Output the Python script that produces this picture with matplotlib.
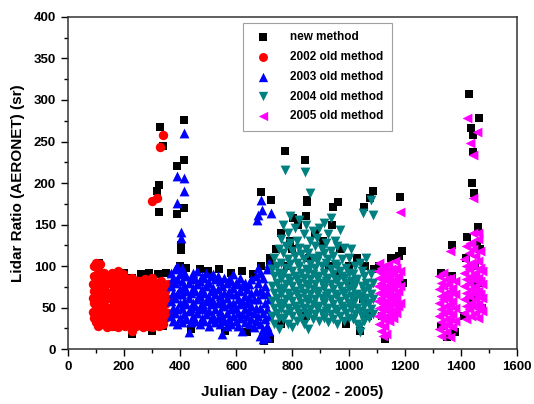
import numpy as np
import matplotlib
matplotlib.use("Agg")
import matplotlib.pyplot as plt
from matplotlib.ticker import MultipleLocator

plt.rcParams['font.family'] = ['Liberation Sans', 'DejaVu Sans']
plt.rcParams['font.weight'] = 'bold'

# (julian day, lidar ratio)
old_2002 = [
    (88, 45), (88, 62), (88, 78),
    (95, 38), (95, 55), (95, 70), (95, 88), (95, 100),
    (102, 32), (102, 50), (102, 66), (102, 84), (102, 104),
    (109, 28), (109, 44), (109, 60), (109, 76), (109, 96),
    (116, 35), (116, 52), (116, 72), (116, 90), (116, 102),
    (123, 30), (123, 48), (123, 64), (123, 82),
    (130, 40), (130, 58), (130, 74), (130, 92),
    (140, 26), (140, 44), (140, 62), (140, 80),
    (148, 34), (148, 50), (148, 68), (148, 86),
    (156, 28), (156, 46), (156, 60), (156, 78), (156, 92),
    (164, 38), (164, 54), (164, 72), (164, 88),
    (172, 30), (172, 48), (172, 66), (172, 84),
    (180, 26), (180, 42), (180, 58), (180, 76), (180, 94),
    (188, 36), (188, 52), (188, 70), (188, 86),
    (196, 30), (196, 46), (196, 62), (196, 80), (196, 90),
    (204, 28), (204, 44), (204, 58), (204, 74),
    (212, 34), (212, 50), (212, 66), (212, 84),
    (220, 30), (220, 44), (220, 60), (220, 78),
    (228, 22), (228, 40), (228, 56), (228, 72), (228, 86),
    (236, 32), (236, 48), (236, 64), (236, 80),
    (244, 28), (244, 42), (244, 58), (244, 74),
    (252, 36), (252, 52), (252, 68), (252, 82),
    (260, 30), (260, 46), (260, 62), (260, 78),
    (268, 26), (268, 40), (268, 56), (268, 72),
    (276, 34), (276, 50), (276, 66), (276, 84),
    (284, 28), (284, 44), (284, 58), (284, 76),
    (292, 32), (292, 48), (292, 62), (292, 80),
    (300, 26), (300, 40), (300, 56), (300, 70), (300, 86),
    (308, 30), (308, 46), (308, 60), (308, 76),
    (316, 34), (316, 50), (316, 64), (316, 80),
    (324, 28), (324, 42), (324, 58), (324, 74),
    (332, 36), (332, 52), (332, 66), (332, 82),
    (340, 30), (340, 46), (340, 60), (340, 76),
    (348, 38), (348, 54), (348, 70),
    (356, 44), (356, 60), (356, 78),
    (317, 182), (299, 178), (338, 258), (328, 243),
]

old_2003 = [
    (368, 40), (368, 58), (368, 76), (368, 92),
    (375, 34), (375, 50), (375, 68), (375, 86),
    (382, 44), (382, 62), (382, 80), (382, 96),
    (390, 30), (390, 48), (390, 66), (390, 84), (390, 100),
    (398, 38), (398, 56), (398, 72), (398, 90),
    (406, 32), (406, 50), (406, 66), (406, 82), (406, 98),
    (414, 42), (414, 58), (414, 76), (414, 92),
    (422, 36), (422, 54), (422, 70), (422, 88),
    (430, 20), (430, 46), (430, 62), (430, 80),
    (438, 32), (438, 50), (438, 68), (438, 86),
    (446, 40), (446, 56), (446, 74), (446, 92),
    (454, 34), (454, 52), (454, 70), (454, 84),
    (462, 44), (462, 60), (462, 78), (462, 94),
    (470, 30), (470, 48), (470, 64), (470, 82),
    (478, 38), (478, 56), (478, 72), (478, 88),
    (486, 34), (486, 50), (486, 68), (486, 86),
    (494, 42), (494, 58), (494, 76), (494, 92),
    (502, 28), (502, 46), (502, 62), (502, 80),
    (510, 36), (510, 54), (510, 70), (510, 88),
    (518, 40), (518, 58), (518, 74), (518, 90),
    (526, 32), (526, 48), (526, 66), (526, 84),
    (534, 38), (534, 56), (534, 72), (534, 88),
    (542, 30), (542, 46), (542, 64), (542, 82),
    (550, 18), (550, 40), (550, 58), (550, 76),
    (558, 34), (558, 52), (558, 68), (558, 86),
    (566, 28), (566, 44), (566, 62), (566, 80),
    (574, 36), (574, 54), (574, 70), (574, 84),
    (582, 30), (582, 48), (582, 66), (582, 82),
    (590, 40), (590, 56), (590, 74), (590, 90),
    (598, 34), (598, 50), (598, 66), (598, 80),
    (606, 28), (606, 44), (606, 60), (606, 78),
    (614, 38), (614, 54), (614, 70), (614, 86),
    (622, 22), (622, 42), (622, 58), (622, 76),
    (630, 32), (630, 48), (630, 64), (630, 80),
    (638, 40), (638, 56), (638, 72),
    (646, 30), (646, 46), (646, 62), (646, 78),
    (654, 36), (654, 52), (654, 68), (654, 84),
    (662, 26), (662, 44), (662, 60),
    (670, 34), (670, 50), (670, 70), (670, 88),
    (678, 40), (678, 60), (678, 80), (678, 98),
    (686, 16), (686, 30), (686, 50), (686, 70), (686, 92),
    (694, 12), (694, 24), (694, 44), (694, 66), (694, 86),
    (702, 20), (702, 36), (702, 56), (702, 76),
    (710, 14), (710, 28), (710, 48), (710, 68), (710, 96),
    (718, 22), (718, 40), (718, 60), (718, 104),
    (413, 260), (388, 208), (413, 206), (413, 190), (388, 176),
    (403, 141), (403, 134), (688, 180), (677, 161), (691, 167),
    (723, 164), (673, 155),
]

old_2004 = [
    (728, 40), (728, 58), (728, 76), (728, 96),
    (736, 30), (736, 50), (736, 68), (736, 88), (736, 110),
    (744, 44), (744, 62), (744, 80), (744, 100),
    (752, 24), (752, 38), (752, 56), (752, 74), (752, 92), (752, 120),
    (760, 48), (760, 66), (760, 84), (760, 104), (760, 132),
    (768, 36), (768, 54), (768, 72), (768, 90), (768, 116), (768, 150),
    (776, 42), (776, 60), (776, 78), (776, 98), (776, 124),
    (784, 30), (784, 50), (784, 68), (784, 86), (784, 108), (784, 140),
    (792, 46), (792, 64), (792, 82), (792, 102), (792, 128), (792, 160),
    (800, 26), (800, 40), (800, 58), (800, 76), (800, 94), (800, 118),
    (808, 52), (808, 70), (808, 88), (808, 112), (808, 146),
    (816, 34), (816, 48), (816, 66), (816, 84), (816, 104), (816, 130),
    (824, 44), (824, 62), (824, 80), (824, 100), (824, 122), (824, 156),
    (832, 38), (832, 56), (832, 74), (832, 92), (832, 114),
    (840, 30), (840, 50), (840, 68), (840, 86), (840, 108), (840, 138),
    (848, 44), (848, 60), (848, 78), (848, 96), (848, 120), (848, 150),
    (856, 24), (856, 40), (856, 58), (856, 76), (856, 94), (856, 116),
    (864, 48), (864, 66), (864, 84), (864, 102), (864, 130),
    (872, 36), (872, 54), (872, 72), (872, 90), (872, 110), (872, 142),
    (880, 42), (880, 60), (880, 78), (880, 98), (880, 124),
    (888, 50), (888, 68), (888, 86), (888, 106), (888, 134),
    (896, 34), (896, 52), (896, 70), (896, 88), (896, 112), (896, 146),
    (904, 44), (904, 62), (904, 80), (904, 100), (904, 120),
    (912, 38), (912, 56), (912, 74), (912, 92), (912, 116), (912, 152),
    (920, 46), (920, 64), (920, 82), (920, 104), (920, 128),
    (928, 32), (928, 50), (928, 68), (928, 86), (928, 108), (928, 138),
    (936, 42), (936, 60), (936, 78), (936, 96), (936, 118), (936, 158),
    (944, 36), (944, 54), (944, 72), (944, 90), (944, 112),
    (952, 48), (952, 66), (952, 84), (952, 102), (952, 130),
    (960, 30), (960, 46), (960, 64), (960, 82), (960, 100), (960, 124),
    (968, 40), (968, 58), (968, 76), (968, 94), (968, 144),
    (976, 52), (976, 70), (976, 88), (976, 108),
    (984, 34), (984, 50), (984, 68), (984, 86), (984, 122),
    (992, 44), (992, 62), (992, 80), (992, 98),
    (1000, 38), (1000, 56), (1000, 74), (1000, 92), (1000, 110),
    (1008, 48), (1008, 64), (1008, 82), (1008, 120),
    (1016, 36), (1016, 54), (1016, 72), (1016, 90),
    (1024, 42), (1024, 60), (1024, 78), (1024, 100),
    (1032, 30), (1032, 50), (1032, 66), (1032, 84),
    (1040, 20), (1040, 28), (1040, 46), (1040, 64), (1040, 104),
    (1048, 40), (1048, 58), (1048, 76), (1048, 94),
    (1056, 34), (1056, 52), (1056, 70), (1056, 88),
    (1064, 44), (1064, 62), (1064, 80), (1064, 110),
    (1072, 38), (1072, 56), (1072, 74),
    (1080, 48), (1080, 66), (1080, 90),
    (1088, 42), (1088, 60), (1088, 80),
    (773, 216), (845, 213), (862, 188), (1080, 179), (1052, 164), (1087, 161),
]

old_2005 = [
    (1104, 40), (1104, 58), (1104, 76), (1104, 94),
    (1110, 30), (1110, 50), (1110, 68), (1110, 86), (1110, 104),
    (1116, 22), (1116, 44), (1116, 62), (1116, 80), (1116, 98),
    (1122, 16), (1122, 36), (1122, 54), (1122, 72), (1122, 90),
    (1128, 28), (1128, 48), (1128, 66), (1128, 84), (1128, 100),
    (1134, 18), (1134, 40), (1134, 58), (1134, 76), (1134, 94),
    (1140, 46), (1140, 64), (1140, 82), (1140, 102),
    (1146, 34), (1146, 52), (1146, 70), (1146, 88),
    (1152, 42), (1152, 60), (1152, 78), (1152, 96),
    (1158, 38), (1158, 56), (1158, 74), (1158, 92),
    (1164, 48), (1164, 66), (1164, 84), (1164, 106),
    (1170, 44), (1170, 62), (1170, 80), (1170, 98),
    (1176, 52), (1176, 70), (1176, 88),
    (1182, 56), (1182, 76), (1182, 94), (1183, 165),
    (1322, 24), (1322, 40), (1322, 56), (1322, 72), (1322, 88),
    (1330, 16), (1330, 32), (1330, 48), (1330, 64), (1330, 80),
    (1338, 28), (1338, 44), (1338, 60), (1338, 76), (1338, 92),
    (1346, 20), (1346, 36), (1346, 52), (1346, 68), (1346, 84),
    (1354, 30), (1354, 46), (1354, 62), (1354, 78),
    (1362, 14), (1362, 38), (1362, 54), (1362, 70), (1362, 86),
    (1370, 26), (1370, 42), (1370, 58), (1370, 74),
    (1378, 34), (1378, 50), (1378, 66), (1378, 82), (1361, 118),
    (1412, 44), (1412, 60), (1412, 76), (1412, 92), (1412, 108),
    (1420, 36), (1420, 52), (1420, 68), (1420, 84), (1420, 100), (1420, 124),
    (1428, 48), (1428, 64), (1428, 80), (1428, 96), (1428, 116),
    (1436, 40), (1436, 56), (1436, 72), (1436, 88), (1436, 104), (1436, 128),
    (1444, 52), (1444, 68), (1444, 84), (1444, 100), (1444, 120), (1444, 140),
    (1452, 44), (1452, 60), (1452, 76), (1452, 92), (1452, 112),
    (1460, 38), (1460, 54), (1460, 70), (1460, 86), (1460, 106), (1460, 132),
    (1468, 50), (1468, 66), (1468, 82), (1468, 98), (1468, 118),
    (1476, 46), (1476, 62), (1476, 78), (1476, 94),
    (1422, 278), (1458, 261), (1433, 248), (1443, 234), (1443, 182),
    (1461, 140), (1433, 128),
]

new_method = [
    (328, 268), (338, 245), (317, 190), (324, 198), (324, 165),
    (413, 276), (413, 228), (388, 220), (413, 170), (388, 163),
    (403, 125), (403, 119), (688, 189), (723, 180),
    (773, 239), (845, 228), (851, 180), (852, 177), (802, 158),
    (944, 171), (962, 177), (1087, 190), (1055, 171), (1076, 182),
    (1183, 183), (1429, 307), (1465, 278), (1436, 266), (1443, 258),
    (1443, 237), (1440, 200), (1447, 188), (1461, 147), (1422, 135),
    (1458, 125), (1368, 125),
    (110, 104), (140, 88), (170, 90), (200, 92), (230, 86), (260, 90),
    (290, 92), (320, 90), (350, 92), (230, 18), (300, 22), (160, 26),
    (120, 30), (340, 28),
    (400, 100), (420, 98), (470, 96), (500, 94), (540, 96), (580, 92),
    (620, 94), (660, 90), (690, 100), (720, 110), (440, 24), (560, 22),
    (640, 20), (700, 10), (720, 12),
    (760, 140), (790, 130), (820, 150), (850, 160), (880, 140),
    (910, 130), (940, 150), (970, 120), (1000, 100), (1030, 110),
    (1060, 100), (1090, 96), (800, 120), (860, 110), (930, 100),
    (960, 90), (1010, 80), (1050, 60), (1070, 40), (760, 30),
    (850, 40), (990, 30), (1040, 22), (780, 100), (740, 120), (720, 100),
    (1110, 100), (1150, 110), (1180, 112), (1190, 118), (1130, 12),
    (1170, 60), (1195, 80), (1120, 40), (1330, 92), (1370, 88),
    (1350, 14), (1380, 20), (1330, 28), (1420, 110), (1450, 100),
    (1470, 120), (1440, 60), (1475, 50), (1410, 40), (1460, 80),
]

series = [
    (new_method, 's', 'black', 'new method', 34),
    (old_2002, 'o', '#ff0000', '2002 old method', 46),
    (old_2003, '^', '#0000ff', '2003 old method', 50),
    (old_2004, 'v', '#008080', '2004 old method', 50),
    (old_2005, '<', '#ff00ff', '2005 old method', 50),
]

fig = plt.figure(figsize=(5.34, 4.04), dpi=100)
ax = fig.add_axes([0.127, 0.136, 0.841, 0.822])

for pts, mk, col, lab, sz in series:
    arr = np.array(pts, dtype=float)
    ax.scatter(arr[:, 0], arr[:, 1], marker=mk, s=sz, color=col,
               linewidths=0, label=lab)

ax.set_xlim(0, 1600)
ax.set_ylim(0, 400)
ax.xaxis.set_major_locator(MultipleLocator(200))
ax.xaxis.set_minor_locator(MultipleLocator(100))
ax.yaxis.set_major_locator(MultipleLocator(50))
ax.yaxis.set_minor_locator(MultipleLocator(25))
ax.tick_params(which='both', direction='out', top=False, right=False,
               labelsize=9.5, width=1)
ax.tick_params(which='major', length=5)
ax.tick_params(which='minor', length=3)
for sp in ax.spines.values():
    sp.set_linewidth(1.1)
    sp.set_color('#333333')

ax.set_xlabel('Julian Day - (2002 - 2005)', fontsize=11, fontweight='bold', labelpad=9)
ax.set_ylabel('Lidar Ratio (AERONET) (sr)', fontsize=11, fontweight='bold', labelpad=6)

leg = ax.legend(loc='upper left', bbox_to_anchor=(0.39, 0.982), borderaxespad=0,
                fontsize=8.5, frameon=True, fancybox=False, edgecolor='#888888',
                borderpad=0.7, labelspacing=0.66, handletextpad=1.3,
                scatterpoints=1, markerscale=0.95)
leg.get_frame().set_linewidth(0.8)

fig.savefig('out.png', dpi=100)
